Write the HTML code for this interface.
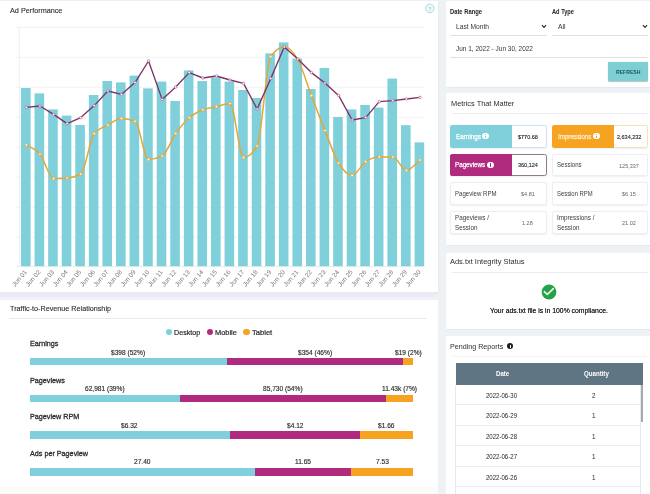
<!DOCTYPE html>
<html><head><meta charset="utf-8"><title>Dashboard</title>
<style>
html,body{margin:0;padding:0;}
body{width:650px;height:494px;overflow:hidden;position:relative;background:#eff2f4;font-family:"Liberation Sans",sans-serif;}
#w{position:absolute;left:0;top:0;width:650px;height:494px;will-change:transform;}
.r{position:absolute;display:block;}
.t{position:absolute;white-space:nowrap;transform-origin:0 50%;display:block;}
svg text{font-family:"Liberation Sans",sans-serif;}
</style></head><body><div id="w">
<div class="r" style="left:0.00px;top:1.00px;width:438.00px;height:291.00px;background:#fff;box-shadow:0 1px 2px rgba(150,150,200,.25);"></div>
<div class="r" style="left:0.00px;top:299.50px;width:437.60px;height:196.50px;background:#fff;"></div>
<div class="r" style="left:0.00px;top:486.60px;width:437.60px;height:9.40px;background:#fbfbfc;"></div>
<div class="r" style="left:0.00px;top:292.30px;width:435.00px;height:4.70px;background:#eaeafa;border-radius:0 2px 2px 0;"></div>
<div class="r" style="left:0.00px;top:297.00px;width:436.00px;height:2.50px;background:#f1f2f8;"></div>
<div class="r" style="left:446.00px;top:1.00px;width:206.00px;height:86.00px;background:#fff;box-shadow:0 0.5px 1px rgba(150,160,180,.10);"></div>
<div class="r" style="left:446.00px;top:93.00px;width:206.00px;height:152.00px;background:#fff;box-shadow:0 0.5px 1px rgba(150,160,180,.10);"></div>
<div class="r" style="left:446.00px;top:252.60px;width:206.00px;height:76.40px;background:#fff;box-shadow:0 0.5px 1px rgba(150,160,180,.10);"></div>
<div class="r" style="left:446.00px;top:336.00px;width:206.00px;height:164.00px;background:#fff;"></div>
<span class="t" style="left:9.60px;top:7.13px;font-size:8.0px;line-height:8.0px;color:#2e2e2e;transform:scaleX(0.9065);-webkit-text-stroke:0.12px #2e2e2e;">Ad Performance</span>
<svg class="r" style="left:0;top:0" width="650" height="494" viewBox="0 0 650 494">
<line x1="16" y1="27.3" x2="425" y2="27.3" stroke="#f0f0f0" stroke-width="0.8"/>
<line x1="16" y1="57.3" x2="425" y2="57.3" stroke="#f0f0f0" stroke-width="0.8"/>
<line x1="16" y1="87.3" x2="425" y2="87.3" stroke="#f0f0f0" stroke-width="0.8"/>
<line x1="16" y1="117.3" x2="425" y2="117.3" stroke="#f0f0f0" stroke-width="0.8"/>
<line x1="16" y1="147.3" x2="425" y2="147.3" stroke="#f0f0f0" stroke-width="0.8"/>
<line x1="16" y1="177.3" x2="425" y2="177.3" stroke="#f0f0f0" stroke-width="0.8"/>
<line x1="16" y1="207.3" x2="425" y2="207.3" stroke="#f0f0f0" stroke-width="0.8"/>
<line x1="16" y1="237.3" x2="425" y2="237.3" stroke="#f0f0f0" stroke-width="0.8"/>
<line x1="19.4" y1="27" x2="19.4" y2="266.7" stroke="#ebebeb" stroke-width="0.8"/>
<line x1="16" y1="266.59999999999997" x2="425" y2="266.59999999999997" stroke="#e6e6e6" stroke-width="0.8"/>
<rect x="21.00" y="88.0" width="9.6" height="178.2" fill="#80d0db"/>
<rect x="34.57" y="93.4" width="9.6" height="172.8" fill="#80d0db"/>
<rect x="48.14" y="109.4" width="9.6" height="156.8" fill="#80d0db"/>
<rect x="61.72" y="115.6" width="9.6" height="150.6" fill="#80d0db"/>
<rect x="75.29" y="125.0" width="9.6" height="141.2" fill="#80d0db"/>
<rect x="88.86" y="95.0" width="9.6" height="171.2" fill="#80d0db"/>
<rect x="102.43" y="81.0" width="9.6" height="185.2" fill="#80d0db"/>
<rect x="116.00" y="82.4" width="9.6" height="183.8" fill="#80d0db"/>
<rect x="129.58" y="75.6" width="9.6" height="190.6" fill="#80d0db"/>
<rect x="143.15" y="88.4" width="9.6" height="177.8" fill="#80d0db"/>
<rect x="156.72" y="81.6" width="9.6" height="184.6" fill="#80d0db"/>
<rect x="170.29" y="101.0" width="9.6" height="165.2" fill="#80d0db"/>
<rect x="183.86" y="70.4" width="9.6" height="195.8" fill="#80d0db"/>
<rect x="197.44" y="81.0" width="9.6" height="185.2" fill="#80d0db"/>
<rect x="211.01" y="77.4" width="9.6" height="188.8" fill="#80d0db"/>
<rect x="224.58" y="81.6" width="9.6" height="184.6" fill="#80d0db"/>
<rect x="238.15" y="90.0" width="9.6" height="176.2" fill="#80d0db"/>
<rect x="251.72" y="98.0" width="9.6" height="168.2" fill="#80d0db"/>
<rect x="265.30" y="53.4" width="9.6" height="212.8" fill="#80d0db"/>
<rect x="278.87" y="42.4" width="9.6" height="223.8" fill="#80d0db"/>
<rect x="292.44" y="58.6" width="9.6" height="207.6" fill="#80d0db"/>
<rect x="306.01" y="89.0" width="9.6" height="177.2" fill="#80d0db"/>
<rect x="319.58" y="68.0" width="9.6" height="198.2" fill="#80d0db"/>
<rect x="333.16" y="117.0" width="9.6" height="149.2" fill="#80d0db"/>
<rect x="346.73" y="109.4" width="9.6" height="156.8" fill="#80d0db"/>
<rect x="360.30" y="105.0" width="9.6" height="161.2" fill="#80d0db"/>
<rect x="373.87" y="107.6" width="9.6" height="158.6" fill="#80d0db"/>
<rect x="387.44" y="78.6" width="9.6" height="187.6" fill="#80d0db"/>
<rect x="401.02" y="125.2" width="9.6" height="141.0" fill="#80d0db"/>
<rect x="414.59" y="142.4" width="9.6" height="123.8" fill="#80d0db"/>
<path d="M26.40,145.00 C30.92,148.00 35.45,148.40 39.97,154.00 C44.50,159.60 49.02,178.60 53.54,178.60 C58.07,178.60 62.59,178.40 67.12,178.00 C71.64,177.60 76.16,176.67 80.69,174.00 C85.21,171.33 89.74,139.33 94.26,133.60 C98.78,127.87 103.31,127.53 107.83,125.00 C112.36,122.47 116.88,118.40 121.40,118.40 C125.93,118.40 130.45,119.33 134.98,121.20 C139.50,123.07 144.02,159.40 148.55,159.40 C153.07,159.40 157.60,158.27 162.12,156.00 C166.64,153.73 171.17,139.97 175.69,133.60 C180.22,127.23 184.74,121.77 189.26,117.80 C193.79,113.83 198.31,111.67 202.84,109.80 C207.36,107.93 211.88,107.63 216.41,106.60 C220.93,105.57 225.46,103.60 229.98,103.60 C234.50,103.60 239.03,157.40 243.55,157.40 C248.08,157.40 252.60,153.60 257.12,146.00 C261.65,138.40 266.17,63.00 270.70,56.60 C275.22,50.20 279.74,47.00 284.27,47.00 C288.79,47.00 293.32,51.40 297.84,59.50 C302.36,67.60 306.89,83.75 311.41,95.60 C315.94,107.45 320.46,119.37 324.98,130.60 C329.51,141.83 334.03,155.53 338.56,163.00 C343.08,170.47 347.60,175.40 352.13,175.40 C356.65,175.40 361.18,164.67 365.70,161.60 C370.22,158.53 374.75,157.00 379.27,157.00 C383.80,157.00 388.32,157.00 392.84,157.00 C397.37,157.00 401.89,170.40 406.42,170.40 C410.94,170.40 415.46,163.47 419.99,160.00" fill="none" stroke="#e2a73a" stroke-width="1.5" stroke-linejoin="round"/>
<circle cx="26.40" cy="145.00" r="1.3" fill="#fffbe8" stroke="#e2a73a" stroke-width="0.7"/>
<circle cx="39.97" cy="154.00" r="1.3" fill="#fffbe8" stroke="#e2a73a" stroke-width="0.7"/>
<circle cx="53.54" cy="178.60" r="1.3" fill="#fffbe8" stroke="#e2a73a" stroke-width="0.7"/>
<circle cx="67.12" cy="178.00" r="1.3" fill="#fffbe8" stroke="#e2a73a" stroke-width="0.7"/>
<circle cx="80.69" cy="174.00" r="1.3" fill="#fffbe8" stroke="#e2a73a" stroke-width="0.7"/>
<circle cx="94.26" cy="133.60" r="1.3" fill="#fffbe8" stroke="#e2a73a" stroke-width="0.7"/>
<circle cx="107.83" cy="125.00" r="1.3" fill="#fffbe8" stroke="#e2a73a" stroke-width="0.7"/>
<circle cx="121.40" cy="118.40" r="1.3" fill="#fffbe8" stroke="#e2a73a" stroke-width="0.7"/>
<circle cx="134.98" cy="121.20" r="1.3" fill="#fffbe8" stroke="#e2a73a" stroke-width="0.7"/>
<circle cx="148.55" cy="159.40" r="1.3" fill="#fffbe8" stroke="#e2a73a" stroke-width="0.7"/>
<circle cx="162.12" cy="156.00" r="1.3" fill="#fffbe8" stroke="#e2a73a" stroke-width="0.7"/>
<circle cx="175.69" cy="133.60" r="1.3" fill="#fffbe8" stroke="#e2a73a" stroke-width="0.7"/>
<circle cx="189.26" cy="117.80" r="1.3" fill="#fffbe8" stroke="#e2a73a" stroke-width="0.7"/>
<circle cx="202.84" cy="109.80" r="1.3" fill="#fffbe8" stroke="#e2a73a" stroke-width="0.7"/>
<circle cx="216.41" cy="106.60" r="1.3" fill="#fffbe8" stroke="#e2a73a" stroke-width="0.7"/>
<circle cx="229.98" cy="103.60" r="1.3" fill="#fffbe8" stroke="#e2a73a" stroke-width="0.7"/>
<circle cx="243.55" cy="157.40" r="1.3" fill="#fffbe8" stroke="#e2a73a" stroke-width="0.7"/>
<circle cx="257.12" cy="146.00" r="1.3" fill="#fffbe8" stroke="#e2a73a" stroke-width="0.7"/>
<circle cx="270.70" cy="56.60" r="1.3" fill="#fffbe8" stroke="#e2a73a" stroke-width="0.7"/>
<circle cx="284.27" cy="47.00" r="1.3" fill="#fffbe8" stroke="#e2a73a" stroke-width="0.7"/>
<circle cx="297.84" cy="59.50" r="1.3" fill="#fffbe8" stroke="#e2a73a" stroke-width="0.7"/>
<circle cx="311.41" cy="95.60" r="1.3" fill="#fffbe8" stroke="#e2a73a" stroke-width="0.7"/>
<circle cx="324.98" cy="130.60" r="1.3" fill="#fffbe8" stroke="#e2a73a" stroke-width="0.7"/>
<circle cx="338.56" cy="163.00" r="1.3" fill="#fffbe8" stroke="#e2a73a" stroke-width="0.7"/>
<circle cx="352.13" cy="175.40" r="1.3" fill="#fffbe8" stroke="#e2a73a" stroke-width="0.7"/>
<circle cx="365.70" cy="161.60" r="1.3" fill="#fffbe8" stroke="#e2a73a" stroke-width="0.7"/>
<circle cx="379.27" cy="157.00" r="1.3" fill="#fffbe8" stroke="#e2a73a" stroke-width="0.7"/>
<circle cx="392.84" cy="157.00" r="1.3" fill="#fffbe8" stroke="#e2a73a" stroke-width="0.7"/>
<circle cx="406.42" cy="170.40" r="1.3" fill="#fffbe8" stroke="#e2a73a" stroke-width="0.7"/>
<circle cx="419.99" cy="160.00" r="1.3" fill="#fffbe8" stroke="#e2a73a" stroke-width="0.7"/>
<polyline points="26.40,107.40 39.97,106.00 53.54,114.40 67.12,123.60 80.69,117.60 94.26,105.60 107.83,91.00 121.40,94.40 134.98,82.60 148.55,61.00 162.12,99.40 175.69,87.00 189.26,72.60 202.84,78.00 216.41,76.00 229.98,80.00 243.55,83.40 257.12,109.00 270.70,78.60 284.27,47.00 297.84,59.00 311.41,72.60 324.98,83.00 338.56,95.40 352.13,120.00 365.70,117.60 379.27,101.60 392.84,100.60 406.42,99.00 419.99,97.40" fill="none" stroke="#7f3266" stroke-width="1.35" stroke-linejoin="round"/>
<circle cx="26.40" cy="107.40" r="1.25" fill="#fff" stroke="#b0508f" stroke-width="0.65"/>
<circle cx="39.97" cy="106.00" r="1.25" fill="#fff" stroke="#b0508f" stroke-width="0.65"/>
<circle cx="53.54" cy="114.40" r="1.25" fill="#fff" stroke="#b0508f" stroke-width="0.65"/>
<circle cx="67.12" cy="123.60" r="1.25" fill="#fff" stroke="#b0508f" stroke-width="0.65"/>
<circle cx="80.69" cy="117.60" r="1.25" fill="#fff" stroke="#b0508f" stroke-width="0.65"/>
<circle cx="94.26" cy="105.60" r="1.25" fill="#fff" stroke="#b0508f" stroke-width="0.65"/>
<circle cx="107.83" cy="91.00" r="1.25" fill="#fff" stroke="#b0508f" stroke-width="0.65"/>
<circle cx="121.40" cy="94.40" r="1.25" fill="#fff" stroke="#b0508f" stroke-width="0.65"/>
<circle cx="134.98" cy="82.60" r="1.25" fill="#fff" stroke="#b0508f" stroke-width="0.65"/>
<circle cx="148.55" cy="61.00" r="1.25" fill="#fff" stroke="#b0508f" stroke-width="0.65"/>
<circle cx="162.12" cy="99.40" r="1.25" fill="#fff" stroke="#b0508f" stroke-width="0.65"/>
<circle cx="175.69" cy="87.00" r="1.25" fill="#fff" stroke="#b0508f" stroke-width="0.65"/>
<circle cx="189.26" cy="72.60" r="1.25" fill="#fff" stroke="#b0508f" stroke-width="0.65"/>
<circle cx="202.84" cy="78.00" r="1.25" fill="#fff" stroke="#b0508f" stroke-width="0.65"/>
<circle cx="216.41" cy="76.00" r="1.25" fill="#fff" stroke="#b0508f" stroke-width="0.65"/>
<circle cx="229.98" cy="80.00" r="1.25" fill="#fff" stroke="#b0508f" stroke-width="0.65"/>
<circle cx="243.55" cy="83.40" r="1.25" fill="#fff" stroke="#b0508f" stroke-width="0.65"/>
<circle cx="257.12" cy="109.00" r="1.25" fill="#fff" stroke="#b0508f" stroke-width="0.65"/>
<circle cx="270.70" cy="78.60" r="1.25" fill="#fff" stroke="#b0508f" stroke-width="0.65"/>
<circle cx="284.27" cy="47.00" r="1.25" fill="#fff" stroke="#b0508f" stroke-width="0.65"/>
<circle cx="297.84" cy="59.00" r="1.25" fill="#fff" stroke="#b0508f" stroke-width="0.65"/>
<circle cx="311.41" cy="72.60" r="1.25" fill="#fff" stroke="#b0508f" stroke-width="0.65"/>
<circle cx="324.98" cy="83.00" r="1.25" fill="#fff" stroke="#b0508f" stroke-width="0.65"/>
<circle cx="338.56" cy="95.40" r="1.25" fill="#fff" stroke="#b0508f" stroke-width="0.65"/>
<circle cx="352.13" cy="120.00" r="1.25" fill="#fff" stroke="#b0508f" stroke-width="0.65"/>
<circle cx="365.70" cy="117.60" r="1.25" fill="#fff" stroke="#b0508f" stroke-width="0.65"/>
<circle cx="379.27" cy="101.60" r="1.25" fill="#fff" stroke="#b0508f" stroke-width="0.65"/>
<circle cx="392.84" cy="100.60" r="1.25" fill="#fff" stroke="#b0508f" stroke-width="0.65"/>
<circle cx="406.42" cy="99.00" r="1.25" fill="#fff" stroke="#b0508f" stroke-width="0.65"/>
<circle cx="419.99" cy="97.40" r="1.25" fill="#fff" stroke="#b0508f" stroke-width="0.65"/>
<text x="27.40" y="272.20" transform="rotate(-50 27.40 272.20)" text-anchor="end" font-size="6.3" fill="#777" textLength="19.4" lengthAdjust="spacingAndGlyphs">Jun 01</text>
<text x="40.97" y="272.20" transform="rotate(-50 40.97 272.20)" text-anchor="end" font-size="6.3" fill="#777" textLength="19.4" lengthAdjust="spacingAndGlyphs">Jun 02</text>
<text x="54.54" y="272.20" transform="rotate(-50 54.54 272.20)" text-anchor="end" font-size="6.3" fill="#777" textLength="19.4" lengthAdjust="spacingAndGlyphs">Jun 03</text>
<text x="68.12" y="272.20" transform="rotate(-50 68.12 272.20)" text-anchor="end" font-size="6.3" fill="#777" textLength="19.4" lengthAdjust="spacingAndGlyphs">Jun 04</text>
<text x="81.69" y="272.20" transform="rotate(-50 81.69 272.20)" text-anchor="end" font-size="6.3" fill="#777" textLength="19.4" lengthAdjust="spacingAndGlyphs">Jun 05</text>
<text x="95.26" y="272.20" transform="rotate(-50 95.26 272.20)" text-anchor="end" font-size="6.3" fill="#777" textLength="19.4" lengthAdjust="spacingAndGlyphs">Jun 06</text>
<text x="108.83" y="272.20" transform="rotate(-50 108.83 272.20)" text-anchor="end" font-size="6.3" fill="#777" textLength="19.4" lengthAdjust="spacingAndGlyphs">Jun 07</text>
<text x="122.40" y="272.20" transform="rotate(-50 122.40 272.20)" text-anchor="end" font-size="6.3" fill="#777" textLength="19.4" lengthAdjust="spacingAndGlyphs">Jun 08</text>
<text x="135.98" y="272.20" transform="rotate(-50 135.98 272.20)" text-anchor="end" font-size="6.3" fill="#777" textLength="19.4" lengthAdjust="spacingAndGlyphs">Jun 09</text>
<text x="149.55" y="272.20" transform="rotate(-50 149.55 272.20)" text-anchor="end" font-size="6.3" fill="#777" textLength="19.4" lengthAdjust="spacingAndGlyphs">Jun 10</text>
<text x="163.12" y="272.20" transform="rotate(-50 163.12 272.20)" text-anchor="end" font-size="6.3" fill="#777" textLength="19.4" lengthAdjust="spacingAndGlyphs">Jun 11</text>
<text x="176.69" y="272.20" transform="rotate(-50 176.69 272.20)" text-anchor="end" font-size="6.3" fill="#777" textLength="19.4" lengthAdjust="spacingAndGlyphs">Jun 12</text>
<text x="190.26" y="272.20" transform="rotate(-50 190.26 272.20)" text-anchor="end" font-size="6.3" fill="#777" textLength="19.4" lengthAdjust="spacingAndGlyphs">Jun 13</text>
<text x="203.84" y="272.20" transform="rotate(-50 203.84 272.20)" text-anchor="end" font-size="6.3" fill="#777" textLength="19.4" lengthAdjust="spacingAndGlyphs">Jun 14</text>
<text x="217.41" y="272.20" transform="rotate(-50 217.41 272.20)" text-anchor="end" font-size="6.3" fill="#777" textLength="19.4" lengthAdjust="spacingAndGlyphs">Jun 15</text>
<text x="230.98" y="272.20" transform="rotate(-50 230.98 272.20)" text-anchor="end" font-size="6.3" fill="#777" textLength="19.4" lengthAdjust="spacingAndGlyphs">Jun 16</text>
<text x="244.55" y="272.20" transform="rotate(-50 244.55 272.20)" text-anchor="end" font-size="6.3" fill="#777" textLength="19.4" lengthAdjust="spacingAndGlyphs">Jun 17</text>
<text x="258.12" y="272.20" transform="rotate(-50 258.12 272.20)" text-anchor="end" font-size="6.3" fill="#777" textLength="19.4" lengthAdjust="spacingAndGlyphs">Jun 18</text>
<text x="271.70" y="272.20" transform="rotate(-50 271.70 272.20)" text-anchor="end" font-size="6.3" fill="#777" textLength="19.4" lengthAdjust="spacingAndGlyphs">Jun 19</text>
<text x="285.27" y="272.20" transform="rotate(-50 285.27 272.20)" text-anchor="end" font-size="6.3" fill="#777" textLength="19.4" lengthAdjust="spacingAndGlyphs">Jun 20</text>
<text x="298.84" y="272.20" transform="rotate(-50 298.84 272.20)" text-anchor="end" font-size="6.3" fill="#777" textLength="19.4" lengthAdjust="spacingAndGlyphs">Jun 21</text>
<text x="312.41" y="272.20" transform="rotate(-50 312.41 272.20)" text-anchor="end" font-size="6.3" fill="#777" textLength="19.4" lengthAdjust="spacingAndGlyphs">Jun 22</text>
<text x="325.98" y="272.20" transform="rotate(-50 325.98 272.20)" text-anchor="end" font-size="6.3" fill="#777" textLength="19.4" lengthAdjust="spacingAndGlyphs">Jun 23</text>
<text x="339.56" y="272.20" transform="rotate(-50 339.56 272.20)" text-anchor="end" font-size="6.3" fill="#777" textLength="19.4" lengthAdjust="spacingAndGlyphs">Jun 24</text>
<text x="353.13" y="272.20" transform="rotate(-50 353.13 272.20)" text-anchor="end" font-size="6.3" fill="#777" textLength="19.4" lengthAdjust="spacingAndGlyphs">Jun 25</text>
<text x="366.70" y="272.20" transform="rotate(-50 366.70 272.20)" text-anchor="end" font-size="6.3" fill="#777" textLength="19.4" lengthAdjust="spacingAndGlyphs">Jun 26</text>
<text x="380.27" y="272.20" transform="rotate(-50 380.27 272.20)" text-anchor="end" font-size="6.3" fill="#777" textLength="19.4" lengthAdjust="spacingAndGlyphs">Jun 27</text>
<text x="393.84" y="272.20" transform="rotate(-50 393.84 272.20)" text-anchor="end" font-size="6.3" fill="#777" textLength="19.4" lengthAdjust="spacingAndGlyphs">Jun 28</text>
<text x="407.42" y="272.20" transform="rotate(-50 407.42 272.20)" text-anchor="end" font-size="6.3" fill="#777" textLength="19.4" lengthAdjust="spacingAndGlyphs">Jun 29</text>
<text x="420.99" y="272.20" transform="rotate(-50 420.99 272.20)" text-anchor="end" font-size="6.3" fill="#777" textLength="19.4" lengthAdjust="spacingAndGlyphs">Jun 30</text>
<circle cx="429.8" cy="8.4" r="4.3" fill="#eef9f7" stroke="#9edcd5" stroke-width="0.9"/>
<text x="429.8" y="10.6" text-anchor="middle" font-size="6" font-weight="700" fill="#9edcd5">?</text>
</svg>
<span class="t" style="left:10.00px;top:305.23px;font-size:8.0px;line-height:8.0px;color:#2e2e2e;transform:scaleX(0.9013);-webkit-text-stroke:0.12px #2e2e2e;">Traffic-to-Revenue Relationship</span>
<div class="r" style="left:9.00px;top:318.40px;width:418.00px;height:0.80px;background:#e9e9ee;"></div>
<div class="r" style="left:166.00px;top:329.10px;width:6.4px;height:6.4px;border-radius:50%;background:#80d0db"></div>
<span class="t" style="left:174.40px;top:328.60px;font-size:7.8px;line-height:7.8px;color:#262626;transform:scaleX(0.9156);-webkit-text-stroke:0.2px #262626;">Desktop</span>
<div class="r" style="left:207.00px;top:329.10px;width:6.4px;height:6.4px;border-radius:50%;background:#b02a7d"></div>
<span class="t" style="left:215.40px;top:328.60px;font-size:7.8px;line-height:7.8px;color:#262626;transform:scaleX(0.9487);-webkit-text-stroke:0.2px #262626;">Mobile</span>
<div class="r" style="left:243.40px;top:329.10px;width:6.4px;height:6.4px;border-radius:50%;background:#f6a322"></div>
<span class="t" style="left:251.90px;top:328.60px;font-size:7.8px;line-height:7.8px;color:#262626;transform:scaleX(0.9705);-webkit-text-stroke:0.2px #262626;">Tablet</span>
<span class="t" style="left:29.60px;top:340.23px;font-size:8.0px;line-height:8.0px;color:#2a2a2a;transform:scaleX(0.9000);-webkit-text-stroke:0.3px #2a2a2a;">Earnings</span>
<div class="r" style="left:29.50px;top:358.20px;width:197.90px;height:7.20px;background:#80d0db;"></div>
<span class="t" style="left:111.40px;top:349.64px;font-size:6.8px;line-height:6.8px;color:#2a2a2a;transform:scaleX(0.9700);-webkit-text-stroke:0.15px #2a2a2a;">$398 (52%)</span>
<div class="r" style="left:227.40px;top:358.20px;width:176.00px;height:7.20px;background:#b02a7d;"></div>
<span class="t" style="left:298.35px;top:349.64px;font-size:6.8px;line-height:6.8px;color:#2a2a2a;transform:scaleX(0.9700);-webkit-text-stroke:0.15px #2a2a2a;">$354 (46%)</span>
<div class="r" style="left:403.40px;top:358.20px;width:9.60px;height:7.20px;background:#f6a322;"></div>
<span class="t" style="left:394.82px;top:349.64px;font-size:6.8px;line-height:6.8px;color:#2a2a2a;transform:scaleX(0.9700);-webkit-text-stroke:0.15px #2a2a2a;">$19 (2%)</span>
<span class="t" style="left:29.60px;top:376.83px;font-size:8.0px;line-height:8.0px;color:#2a2a2a;transform:scaleX(0.9000);-webkit-text-stroke:0.3px #2a2a2a;">Pageviews</span>
<div class="r" style="left:29.50px;top:394.80px;width:150.70px;height:7.40px;background:#80d0db;"></div>
<span class="t" style="left:85.05px;top:386.24px;font-size:6.8px;line-height:6.8px;color:#2a2a2a;transform:scaleX(0.9700);-webkit-text-stroke:0.15px #2a2a2a;">62,981 (39%)</span>
<div class="r" style="left:180.20px;top:394.80px;width:205.40px;height:7.40px;background:#b02a7d;"></div>
<span class="t" style="left:263.10px;top:386.24px;font-size:6.8px;line-height:6.8px;color:#2a2a2a;transform:scaleX(0.9700);-webkit-text-stroke:0.15px #2a2a2a;">85,730 (54%)</span>
<div class="r" style="left:385.60px;top:394.80px;width:27.40px;height:7.40px;background:#f6a322;"></div>
<span class="t" style="left:381.76px;top:386.24px;font-size:6.8px;line-height:6.8px;color:#2a2a2a;transform:scaleX(0.9700);-webkit-text-stroke:0.15px #2a2a2a;">11.43k (7%)</span>
<span class="t" style="left:29.60px;top:413.43px;font-size:8.0px;line-height:8.0px;color:#2a2a2a;transform:scaleX(0.9000);-webkit-text-stroke:0.3px #2a2a2a;">Pageview RPM</span>
<div class="r" style="left:29.50px;top:431.20px;width:200.30px;height:7.60px;background:#80d0db;"></div>
<span class="t" style="left:121.40px;top:422.64px;font-size:6.8px;line-height:6.8px;color:#2a2a2a;transform:scaleX(0.9700);-webkit-text-stroke:0.15px #2a2a2a;">$6.32</span>
<div class="r" style="left:229.80px;top:431.20px;width:130.40px;height:7.60px;background:#b02a7d;"></div>
<span class="t" style="left:286.75px;top:422.64px;font-size:6.8px;line-height:6.8px;color:#2a2a2a;transform:scaleX(0.9700);-webkit-text-stroke:0.15px #2a2a2a;">$4.12</span>
<div class="r" style="left:360.20px;top:431.20px;width:52.80px;height:7.60px;background:#f6a322;"></div>
<span class="t" style="left:378.35px;top:422.64px;font-size:6.8px;line-height:6.8px;color:#2a2a2a;transform:scaleX(0.9700);-webkit-text-stroke:0.15px #2a2a2a;">$1.66</span>
<span class="t" style="left:29.60px;top:450.03px;font-size:8.0px;line-height:8.0px;color:#2a2a2a;transform:scaleX(0.9000);-webkit-text-stroke:0.3px #2a2a2a;">Ads per Pageview</span>
<div class="r" style="left:29.50px;top:467.80px;width:225.60px;height:7.80px;background:#80d0db;"></div>
<span class="t" style="left:134.05px;top:459.24px;font-size:6.8px;line-height:6.8px;color:#2a2a2a;transform:scaleX(0.9700);-webkit-text-stroke:0.15px #2a2a2a;">27.40</span>
<div class="r" style="left:255.10px;top:467.80px;width:95.90px;height:7.80px;background:#b02a7d;"></div>
<span class="t" style="left:295.04px;top:459.24px;font-size:6.8px;line-height:6.8px;color:#2a2a2a;transform:scaleX(0.9700);-webkit-text-stroke:0.15px #2a2a2a;">11.65</span>
<div class="r" style="left:351.00px;top:467.80px;width:62.00px;height:7.80px;background:#f6a322;"></div>
<span class="t" style="left:375.58px;top:459.24px;font-size:6.8px;line-height:6.8px;color:#2a2a2a;transform:scaleX(0.9700);-webkit-text-stroke:0.15px #2a2a2a;">7.53</span>
<span class="t" style="left:450.40px;top:8.96px;font-size:6.9px;line-height:6.9px;color:#262626;font-weight:700;transform:scaleX(0.8430);">Date Range</span>
<span class="t" style="left:552.00px;top:8.96px;font-size:6.9px;line-height:6.9px;color:#262626;font-weight:700;transform:scaleX(0.8237);">Ad Type</span>
<span class="t" style="left:456.00px;top:23.32px;font-size:7.3px;line-height:7.3px;color:#363636;transform:scaleX(0.9137);">Last Month</span>
<span class="t" style="left:557.60px;top:23.32px;font-size:7.3px;line-height:7.3px;color:#363636;transform:scaleX(0.9367);">All</span>
<div class="r" style="left:450.40px;top:35.30px;width:96.60px;height:0.70px;background:#e1e1e1;"></div>
<div class="r" style="left:552.00px;top:35.30px;width:96.00px;height:0.70px;background:#e1e1e1;"></div>
<span class="t" style="left:456.00px;top:45.42px;font-size:7.3px;line-height:7.3px;color:#363636;transform:scaleX(0.8865);">Jun 1, 2022 - Jun 30, 2022</span>
<div class="r" style="left:450.40px;top:57.30px;width:197.60px;height:0.70px;background:#e1e1e1;"></div>
<svg class="r" style="left:540.7px;top:24.3px" width="6" height="5" viewBox="0 0 6 5"><path d="M0.9,1.1 L3,3.3 L5.1,1.1" fill="none" stroke="#2a2a2a" stroke-width="1.15"/></svg>
<svg class="r" style="left:641.8px;top:24.3px" width="6" height="5" viewBox="0 0 6 5"><path d="M0.9,1.1 L3,3.3 L5.1,1.1" fill="none" stroke="#2a2a2a" stroke-width="1.15"/></svg>
<div class="r" style="left:608.00px;top:62.00px;width:40.00px;height:19.40px;background:#7ecfd4;border-radius:1px;box-shadow:0 0.6px 1px rgba(60,80,90,.35);"></div>
<span class="t" style="left:615.75px;top:69.57px;font-size:5.7px;line-height:5.7px;color:#1a5661;font-weight:700;transform:scaleX(0.8995);">REFRESH</span>
<span class="t" style="left:450.60px;top:99.53px;font-size:8.0px;line-height:8.0px;color:#2e2e2e;transform:scaleX(0.9206);">Metrics That Matter</span>
<div class="r" style="left:452.00px;top:112.80px;width:196.00px;height:0.80px;background:#ececf0;"></div>
<div class="r" style="left:450.40px;top:125.00px;width:96.20px;height:22.60px;background:#fff;border:0.8px solid #cfe3f3;border-radius:2.5px;box-sizing:border-box;box-shadow:0 0.5px 1.5px rgba(120,130,160,.13);"></div>
<div class="r" style="left:450.40px;top:125.00px;width:61.60px;height:22.60px;background:#80d0db;border-radius:2.5px 0 0 2.5px;"></div>
<span class="t" style="left:456.00px;top:132.87px;font-size:7.0px;line-height:7.0px;color:#fff;transform:scaleX(0.9049);-webkit-text-stroke:0.25px #fff;">Earnings</span>
<div class="r" style="left:482.20px;top:133.10px;width:6.4px;height:6.4px;border-radius:50%;background:#fff"></div>
<div class="r" style="left:484.95px;top:135.80px;width:0.90px;height:2.40px;background:#80d0db;"></div>
<div class="r" style="left:484.95px;top:134.30px;width:0.90px;height:0.90px;background:#80d0db;"></div>
<span class="t" style="left:517.78px;top:134.61px;font-size:5.9px;line-height:5.9px;color:#1e1e1e;transform:scaleX(0.9300);-webkit-text-stroke:0.12px #1e1e1e;">$770.68</span>
<div class="r" style="left:552.00px;top:125.00px;width:96.40px;height:22.60px;background:#fff;border:0.8px solid #f3e3b8;border-radius:2.5px;box-sizing:border-box;box-shadow:0 0.5px 1.5px rgba(120,130,160,.13);"></div>
<div class="r" style="left:552.00px;top:125.00px;width:61.60px;height:22.60px;background:#f6a322;border-radius:2.5px 0 0 2.5px;"></div>
<span class="t" style="left:558.00px;top:132.87px;font-size:7.0px;line-height:7.0px;color:#fff0cf;transform:scaleX(0.8851);-webkit-text-stroke:0.25px #fff0cf;">Impressions</span>
<div class="r" style="left:593.20px;top:133.10px;width:6.4px;height:6.4px;border-radius:50%;background:#fff"></div>
<div class="r" style="left:595.95px;top:135.80px;width:0.90px;height:2.40px;background:#f6a322;"></div>
<div class="r" style="left:595.95px;top:134.30px;width:0.90px;height:0.90px;background:#f6a322;"></div>
<span class="t" style="left:616.79px;top:134.61px;font-size:5.9px;line-height:5.9px;color:#1e1e1e;transform:scaleX(0.9300);-webkit-text-stroke:0.12px #1e1e1e;">2,634,232</span>
<div class="r" style="left:450.40px;top:153.60px;width:96.20px;height:22.60px;background:#fff;border:0.8px solid #8d7a8a;border-radius:2.5px;box-sizing:border-box;box-shadow:0 0.5px 1.5px rgba(120,130,160,.13);"></div>
<div class="r" style="left:450.40px;top:153.60px;width:61.60px;height:22.60px;background:#b02a7d;border-radius:2.5px 0 0 2.5px;"></div>
<span class="t" style="left:455.40px;top:161.47px;font-size:7.0px;line-height:7.0px;color:#fff;transform:scaleX(0.8921);-webkit-text-stroke:0.25px #fff;">Pageviews</span>
<div class="r" style="left:487.20px;top:161.70px;width:6.4px;height:6.4px;border-radius:50%;background:#fff"></div>
<div class="r" style="left:489.95px;top:164.40px;width:0.90px;height:2.40px;background:#b02a7d;"></div>
<div class="r" style="left:489.95px;top:162.90px;width:0.90px;height:0.90px;background:#b02a7d;"></div>
<span class="t" style="left:517.78px;top:163.21px;font-size:5.9px;line-height:5.9px;color:#1e1e1e;transform:scaleX(0.9300);-webkit-text-stroke:0.12px #1e1e1e;">360,124</span>
<div class="r" style="left:552.00px;top:153.60px;width:96.40px;height:22.60px;background:#fff;border:0.8px solid #eceef3;border-radius:2.5px;box-sizing:border-box;box-shadow:0 0.5px 1.5px rgba(120,130,160,.13);"></div>
<span class="t" style="left:557.00px;top:161.47px;font-size:7.0px;line-height:7.0px;color:#3c3c3c;transform:scaleX(0.8661);">Sessions</span>
<span class="t" style="left:619.24px;top:163.69px;font-size:5.8px;line-height:5.8px;color:#666;transform:scaleX(0.9500);">125,337</span>
<div class="r" style="left:450.40px;top:182.40px;width:96.20px;height:22.20px;background:#fff;border:0.8px solid #eceef3;border-radius:2.5px;box-sizing:border-box;box-shadow:0 0.5px 1.5px rgba(120,130,160,.13);"></div>
<span class="t" style="left:455.40px;top:190.07px;font-size:7.0px;line-height:7.0px;color:#3c3c3c;transform:scaleX(0.8693);">Pageview RPM</span>
<span class="t" style="left:520.51px;top:192.29px;font-size:5.8px;line-height:5.8px;color:#666;transform:scaleX(0.9500);">$4.81</span>
<div class="r" style="left:552.00px;top:182.40px;width:96.40px;height:22.20px;background:#fff;border:0.8px solid #eceef3;border-radius:2.5px;box-sizing:border-box;box-shadow:0 0.5px 1.5px rgba(120,130,160,.13);"></div>
<span class="t" style="left:557.00px;top:190.07px;font-size:7.0px;line-height:7.0px;color:#3c3c3c;transform:scaleX(0.8395);">Session RPM</span>
<span class="t" style="left:622.11px;top:192.29px;font-size:5.8px;line-height:5.8px;color:#666;transform:scaleX(0.9500);">$6.15</span>
<div class="r" style="left:450.40px;top:211.20px;width:96.20px;height:22.80px;background:#fff;border:0.8px solid #eceef3;border-radius:2.5px;box-sizing:border-box;box-shadow:0 0.5px 1.5px rgba(120,130,160,.13);"></div>
<span class="t" style="left:455.40px;top:214.07px;font-size:7.0px;line-height:7.0px;color:#3c3c3c;transform:scaleX(0.9000);">Pageviews /</span>
<span class="t" style="left:455.40px;top:224.27px;font-size:7.0px;line-height:7.0px;color:#3c3c3c;transform:scaleX(0.9000);">Session</span>
<span class="t" style="left:522.44px;top:221.39px;font-size:5.8px;line-height:5.8px;color:#666;transform:scaleX(0.9500);">1.28</span>
<div class="r" style="left:552.00px;top:211.20px;width:96.40px;height:22.80px;background:#fff;border:0.8px solid #eceef3;border-radius:2.5px;box-sizing:border-box;box-shadow:0 0.5px 1.5px rgba(120,130,160,.13);"></div>
<span class="t" style="left:557.00px;top:214.07px;font-size:7.0px;line-height:7.0px;color:#3c3c3c;transform:scaleX(0.9000);">Impressions /</span>
<span class="t" style="left:557.00px;top:224.27px;font-size:7.0px;line-height:7.0px;color:#3c3c3c;transform:scaleX(0.9000);">Session</span>
<span class="t" style="left:621.91px;top:221.39px;font-size:5.8px;line-height:5.8px;color:#666;transform:scaleX(0.9500);">21.02</span>
<span class="t" style="left:450.40px;top:258.23px;font-size:8.0px;line-height:8.0px;color:#2e2e2e;transform:scaleX(0.9321);">Ads.txt Integrity Status</span>
<div class="r" style="left:452.00px;top:271.60px;width:196.00px;height:0.80px;background:#ececf0;"></div>
<svg class="r" style="left:541.1px;top:284.1px" width="16" height="16" viewBox="0 0 16 16"><circle cx="8" cy="8" r="7.4" fill="#25a24a"/><path d="M3.3,7.7 L6.3,10.5 L12.3,4.6" fill="none" stroke="#f4fff4" stroke-width="1.6" stroke-linecap="round" stroke-linejoin="round"/></svg>
<span class="t" style="left:490.00px;top:307.27px;font-size:7.0px;line-height:7.0px;color:#2a2a2a;transform:scaleX(0.9741);text-shadow:0 0 0.3px #2a2a2a;">Your ads.txt file is in 100% compliance.</span>
<span class="t" style="left:450.40px;top:342.63px;font-size:8.0px;line-height:8.0px;color:#2e2e2e;transform:scaleX(0.8927);">Pending Reports</span>
<div class="r" style="left:507.20px;top:343.40px;width:6.0px;height:6.0px;border-radius:50%;background:#1c1c1c"></div>
<div class="r" style="left:509.85px;top:346.00px;width:0.70px;height:2.00px;background:#fff;"></div>
<div class="r" style="left:509.85px;top:344.60px;width:0.70px;height:0.80px;background:#fff;"></div>
<div class="r" style="left:452.00px;top:355.80px;width:196.00px;height:0.70px;background:#f5f5f7;"></div>
<div class="r" style="left:455.60px;top:363.20px;width:187.40px;height:21.40px;background:#5f7584;"></div>
<span class="t" style="left:495.57px;top:370.84px;font-size:6.8px;line-height:6.8px;color:#fff;font-weight:700;transform:scaleX(0.9000);">Date</span>
<span class="t" style="left:583.79px;top:370.84px;font-size:6.8px;line-height:6.8px;color:#fff;font-weight:700;transform:scaleX(0.9000);">Quantity</span>
<div class="r" style="left:455.30px;top:384.60px;width:0.70px;height:109.40px;background:#e7e9ec;"></div>
<div class="r" style="left:639.60px;top:384.60px;width:0.70px;height:109.40px;background:#e7e9ec;"></div>
<span class="t" style="left:486.30px;top:391.57px;font-size:7.0px;line-height:7.0px;color:#262626;transform:scaleX(0.8657);">2022-06-30</span>
<span class="t" style="left:592.45px;top:391.57px;font-size:7.0px;line-height:7.0px;color:#262626;transform:scaleX(0.9000);">2</span>
<div class="r" style="left:455.60px;top:404.20px;width:184.40px;height:0.70px;background:#e9ebee;"></div>
<span class="t" style="left:486.30px;top:412.12px;font-size:7.0px;line-height:7.0px;color:#262626;transform:scaleX(0.8657);">2022-06-29</span>
<span class="t" style="left:592.45px;top:412.12px;font-size:7.0px;line-height:7.0px;color:#262626;transform:scaleX(0.9000);">1</span>
<div class="r" style="left:455.60px;top:424.75px;width:184.40px;height:0.70px;background:#e9ebee;"></div>
<span class="t" style="left:486.30px;top:432.67px;font-size:7.0px;line-height:7.0px;color:#262626;transform:scaleX(0.8657);">2022-06-28</span>
<span class="t" style="left:592.45px;top:432.67px;font-size:7.0px;line-height:7.0px;color:#262626;transform:scaleX(0.9000);">1</span>
<div class="r" style="left:455.60px;top:445.30px;width:184.40px;height:0.70px;background:#e9ebee;"></div>
<span class="t" style="left:486.30px;top:453.22px;font-size:7.0px;line-height:7.0px;color:#262626;transform:scaleX(0.8657);">2022-06-27</span>
<span class="t" style="left:592.45px;top:453.22px;font-size:7.0px;line-height:7.0px;color:#262626;transform:scaleX(0.9000);">1</span>
<div class="r" style="left:455.60px;top:465.85px;width:184.40px;height:0.70px;background:#e9ebee;"></div>
<span class="t" style="left:486.30px;top:473.77px;font-size:7.0px;line-height:7.0px;color:#262626;transform:scaleX(0.8657);">2022-06-26</span>
<span class="t" style="left:592.45px;top:473.77px;font-size:7.0px;line-height:7.0px;color:#262626;transform:scaleX(0.9000);">1</span>
<div class="r" style="left:455.60px;top:486.40px;width:184.40px;height:0.70px;background:#e9ebee;"></div>
<div class="r" style="left:640.60px;top:384.60px;width:2.60px;height:37.60px;background:#a9a9a9;"></div>
</div></body></html>
